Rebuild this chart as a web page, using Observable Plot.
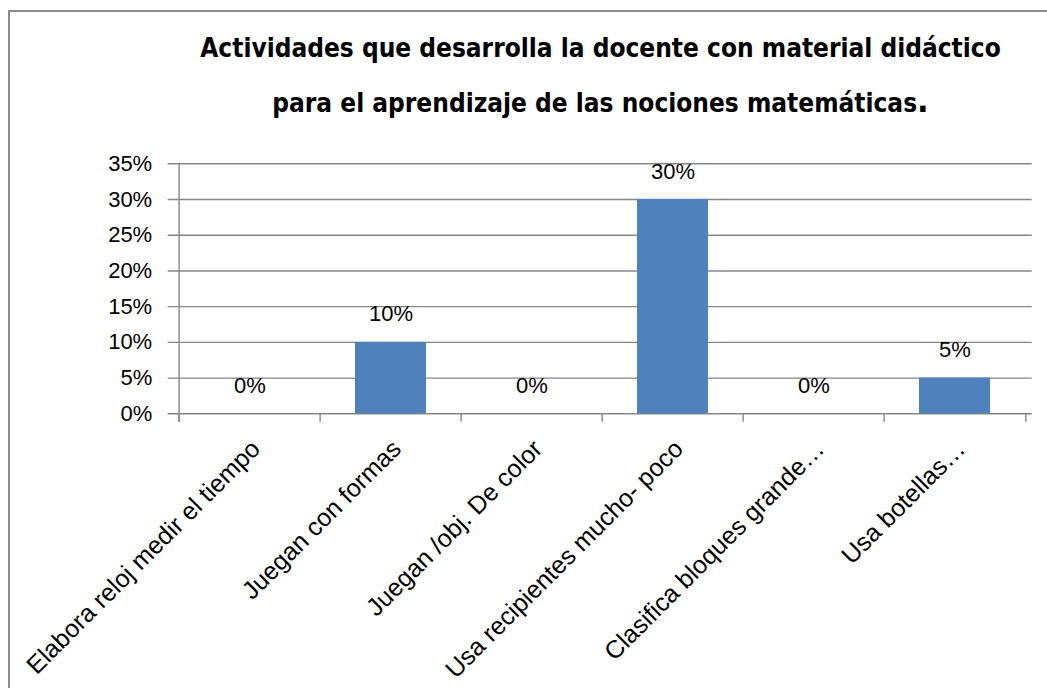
<!DOCTYPE html>
<html>
<head>
<meta charset="utf-8">
<script src="https://cdn.jsdelivr.net/npm/d3@7"></script>
<script src="https://cdn.jsdelivr.net/npm/@observablehq/plot@0.6"></script>
<style>
  body { margin: 0; background: #fff; }
  #wrap { position: relative; width: 1047px; height: 688px; overflow: hidden; background: #fff; }
  #frame { position: absolute; left: 8px; top: 10px; right: -10px; bottom: -10px;
           border-left: 2px solid #8c8c8c; border-top: 2px solid #8c8c8c; pointer-events: none; }
  .tline { position: absolute; left: 154px; width: 893px; text-align: center; white-space: nowrap;
           font-family: "Liberation Sans Narrow", "DejaVu Sans Condensed", sans-serif;
           font-weight: bold; font-size: 26px; line-height: 30px; color: #000; }
  #chart { position: absolute; left: 0; top: 0; }
</style>
</head>
<body>
<div id="wrap">
  <div id="chart"></div>
  <div id="frame"></div>
  <div class="tline" id="t1" style="top:33px">Actividades que desarrolla la docente con material didáctico</div>
  <div class="tline" id="t2" style="top:85px">para el aprendizaje de las nociones matemáticas<span style="font-size:34px">.</span></div>
</div>
<script>
const categories = [
  "Elabora reloj medir el tiempo",
  "Juegan con formas",
  "Juegan /obj. De color",
  "Usa recipientes mucho- poco",
  "Clasifica bloques grande…",
  "Usa botellas…"
];
const values = [0, 0.10, 0, 0.30, 0, 0.05];
const yTicks = [0, 0.05, 0.10, 0.15, 0.20, 0.25, 0.30, 0.35];

const data = categories.map((c, i) => ({category: c, value: values[i]}));
const pct = d3.format(".0%");

const W = 1047, H = 688;
const mL = 176.7, mR = 19.7, mT = 163.3, mB = 274.7;
const step = (W - mL - mR) / categories.length;
const tickLen = 8.5 * 0.35 / (H - mT - mB);
const grey = "#868686";

const chart = Plot.plot({
  width: W,
  height: H,
  marginLeft: mL,
  marginRight: mR,
  marginTop: mT,
  marginBottom: mB,
  style: {fontFamily: "'Liberation Sans', Arial, sans-serif", fontSize: "22px", color: "#000", background: "transparent", overflow: "visible"},
  x: {domain: categories, paddingInner: 0.5, paddingOuter: 0.25, label: null},
  y: {domain: [0, 0.35], label: null},
  marks: [
    Plot.ruleY(yTicks, {stroke: grey, strokeWidth: 1.4, insetLeft: -9, insetRight: -4.4}),
    Plot.barY(data, {x: "category", y: "value", fill: "#4F81BD"}),
    Plot.ruleX([categories[0]], {dx: -step / 2, y1: -tickLen, y2: 0.35, stroke: grey, strokeWidth: 1.4}),
    Plot.ruleX(categories, {dx: -step / 2, y1: -tickLen, y2: 0, stroke: grey, strokeWidth: 1.4}),
    Plot.ruleX([categories[categories.length - 1]], {dx: step / 2, y1: -tickLen, y2: 0, stroke: grey, strokeWidth: 1.4}),
    Plot.axisY(yTicks, {tickSize: 0, tickPadding: 25, tickFormat: pct, fontSize: 22, label: null}),
    Plot.axisX({tickSize: 0, tickRotate: -45, tickPadding: 31, dx: 6, fontSize: 25, label: null}),
    Plot.text(data, {x: "category", y: "value", text: d => pct(d.value), dy: -28, fontSize: 22, fill: "#000"})
  ]
});
document.getElementById("chart").appendChild(chart);
</script>
</body>
</html>
